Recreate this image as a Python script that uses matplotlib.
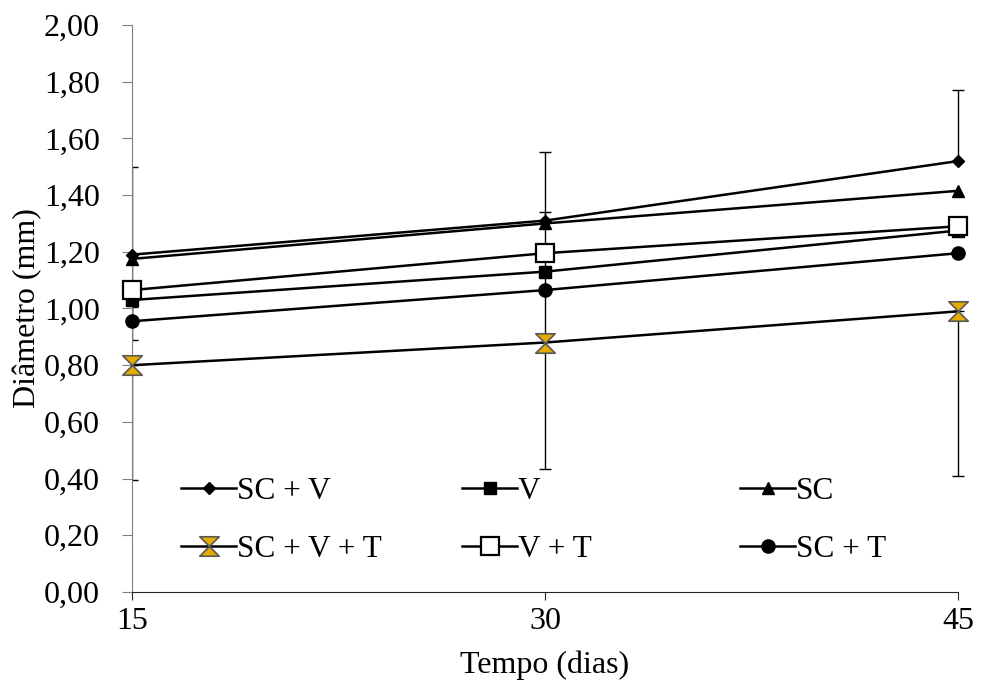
import matplotlib
matplotlib.use("Agg")
import matplotlib.pyplot as plt
from matplotlib.path import Path
from matplotlib.lines import Line2D
from matplotlib.transforms import Bbox, TransformedBbox

# days after planting
days = [15, 30, 45]

# mean stem diameter (mm) per treatment
sc_v = [1.19, 1.31, 1.52]
v = [1.03, 1.13, 1.275]
sc = [1.175, 1.30, 1.415]
sc_v_t = [0.80, 0.88, 0.99]
v_t = [1.065, 1.195, 1.29]
sc_t = [0.955, 1.065, 1.195]

# error bars (lower, upper) as they show in the picture
sc_v_err = [[0.30, 0.0, 0.0], [0.31, 0.243, 0.25]]
sc_v_t_err = [[0.405, 0.445, 0.58], [0.0, 0.46, 0.0]]
sc_t_err = [[0.0, 0.0, 0.0], [0.05, 0.0, 0.0]]

yticks = [0.0, 0.2, 0.4, 0.6, 0.8, 1.0, 1.2, 1.4, 1.6, 1.8, 2.0]

plt.rcParams["font.family"] = ["Liberation Serif", "DejaVu Serif"]

gold = "#E6AC00"
hourglass = Path([(-1, 1), (1, 1), (-1, -1), (1, -1), (-1, 1)],
                 [Path.MOVETO, Path.LINETO, Path.LINETO, Path.LINETO, Path.CLOSEPOLY])

fig = plt.figure(figsize=(9.81, 6.86), dpi=100)
ax = fig.add_axes([0.1346, 0.137, 0.842, 0.8266])

# error bars underneath everything; cut off left of the y axis only
clip = TransformedBbox(Bbox([[14.995, -1.0], [60.0, 3.0]]), ax.transData)
for vals, err in [(sc_v, sc_v_err), (sc_v_t, sc_v_t_err), (sc_t, sc_t_err)]:
    eb = ax.errorbar(days, vals, yerr=err, fmt="none", ecolor="black", elinewidth=1.0,
                     capsize=4, capthick=1.0, zorder=1)
    for art in eb.lines[1] + eb.lines[2]:
        art.set_clip_box(clip)

lw = 1.8
styles = {
    "SC + V": (sc_v, dict(marker="D", ms=6.5, mfc="black", mec="black")),
    "V": (v, dict(marker="s", ms=8, mfc="black", mec="black")),
    "SC": (sc, dict(marker="^", ms=8.5, mfc="black", mec="black")),
    "SC + V + T": (sc_v_t, dict(marker=hourglass, ms=14, mfc=gold, mec="#595959", mew=1.2)),
    "V + T": (v_t, dict(marker="s", ms=12.5, mfc="white", mec="black", mew=1.6)),
    "SC + T": (sc_t, dict(marker="o", ms=9.5, mfc="black", mec="black")),
}
handles = {}
for name, (vals, st) in styles.items():
    ax.plot(days, vals, color="black", lw=lw, zorder=3, clip_on=False, **st)
    handles[name] = Line2D([], [], color="black", lw=lw, **st)

ax.set_xlim(15, 45)
ax.set_ylim(0, 2.0)
ax.set_xticks(days)
ax.set_yticks(yticks)
ax.set_yticklabels([f"{t:.2f}".replace(".", ",") for t in yticks])
for s in ["top", "right"]:
    ax.spines[s].set_visible(False)
ax.spines["left"].set_color("#7f7f7f")
ax.spines["bottom"].set_color("#262626")
ax.tick_params(axis="y", direction="out", length=7, color="#7f7f7f",
               labelsize=23, pad=16)
ax.tick_params(axis="x", direction="out", length=6, color="#262626",
               labelsize=23, pad=5)

ax.set_xlabel("Tempo (dias)", fontsize=23, labelpad=10)
ax.set_ylabel("Diâmetro (mm)", fontsize=23, labelpad=1)

# legend drawn as three columns
cols = [("SC + V", "SC + V + T"), ("V", "V + T"), ("SC", "SC + T")]
xs = [0.0593, 0.3995, 0.736]
for i, (a, b) in enumerate(cols):
    leg = ax.legend([handles[a], handles[b]], [a, b], loc="center left",
                    bbox_to_anchor=(xs[i], 0.126), frameon=False, fontsize=22.5,
                    handlelength=1.77, handletextpad=0.02, labelspacing=0.95,
                    borderaxespad=0, borderpad=0)
    if i < len(cols) - 1:
        ax.add_artist(leg)

fig.savefig("out.png", dpi=100)
